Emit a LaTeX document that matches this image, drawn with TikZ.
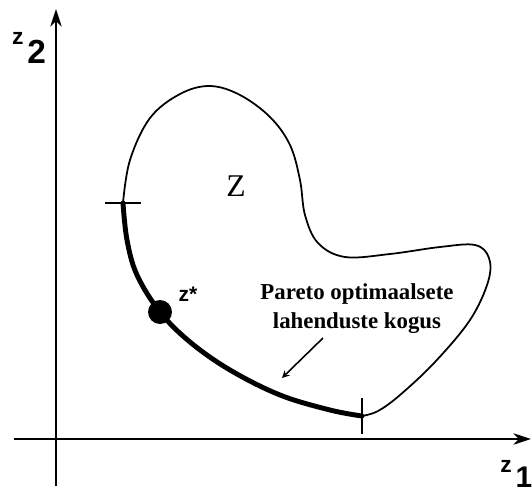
\documentclass[tikz,border=0pt]{standalone}
\usepackage{fontspec}
\setmainfont{Liberation Serif}
\setsansfont{Liberation Sans}
\usetikzlibrary{arrows, arrows.meta, positioning}

\begin{document}
\begin{tikzpicture}[
  x=0.02cm, y=-0.02cm,
  >=stealth,
  axis/.style={-{Stealth[length=10pt, width=6.5pt, inset=3pt]}, line width=1.1pt},
  rim/.style={line width=1pt, line join=round},
  front/.style={line width=2.8pt, line cap=round},
  tick/.style={line width=1pt},
  axlabel/.style={font=\sffamily\bfseries, inner sep=0pt},
  note/.style={align=center, font=\fontsize{13}{16.5}\selectfont\bfseries, inner sep=0pt}
]
  \useasboundingbox (0,0) rectangle (532,491);

  % axes
  \coordinate (xs) at (14,439);
  \coordinate (xe) at (531,439);
  \coordinate (ys) at (56,486);
  \coordinate (ye) at (56,9);
  \draw[axis] (xs) -- (xe);
  \draw[axis] (ys) -- (ye);
  \node[axlabel] (z2) at (29,48) {\fontsize{13}{13}\selectfont z\,\raisebox{-1.5ex}{\fontsize{19}{19}\selectfont 2}};
  \node[axlabel, anchor=west] (z1) at (500,474) {\fontsize{13}{13}\selectfont z\,\raisebox{-1.2ex}{\fontsize{17}{17}\selectfont 1}};

  % set Z
  \coordinate (pa) at (123,203);
  \coordinate (pb) at (362,416);
  \draw[rim] plot[smooth, tension=0.6] coordinates {
    (123,203) (130,160) (150,118) (180,94) (210,86) (240,95) (270,117)
    (290,145) (300,180) (305,215) (318,243) (345,257) (390,254) (440,247)
    (475,245) (489,258) (488,282) (470,320) (435,362) (400,395) (378,411) (362,416)};
  \draw[front] plot[smooth, tension=0.6] coordinates {
    (123,203) (127,240) (137,275) (160,312) (190,342) (230,370) (280,395)
    (330,410) (362,416)};
  \draw[tick] ([xshift=-10]pa) -- ([xshift=10]pa);
  \draw[tick] ([yshift=-10]pb) -- ([yshift=10]pb);
  \node[font=\fontsize{18}{18}\selectfont] (zset) at (236,186) {Z};

  % optimum
  \node[circle, fill, inner sep=0pt, minimum size=0.48cm] (zstar) at (160,312) {};
  \node[axlabel, font=\fontsize{12}{12}\selectfont\sffamily\bfseries] (zlab) at (188,294) {z*};

  \node[note] (pareto) at (357,309) {Pareto optimaalsete\\lahenduste kogus};
  \coordinate (tail) at (323,338);
  \coordinate (head) at (282,378);
  \draw[->, line width=0.9pt] (tail) -- (head);
\end{tikzpicture}
\end{document}
